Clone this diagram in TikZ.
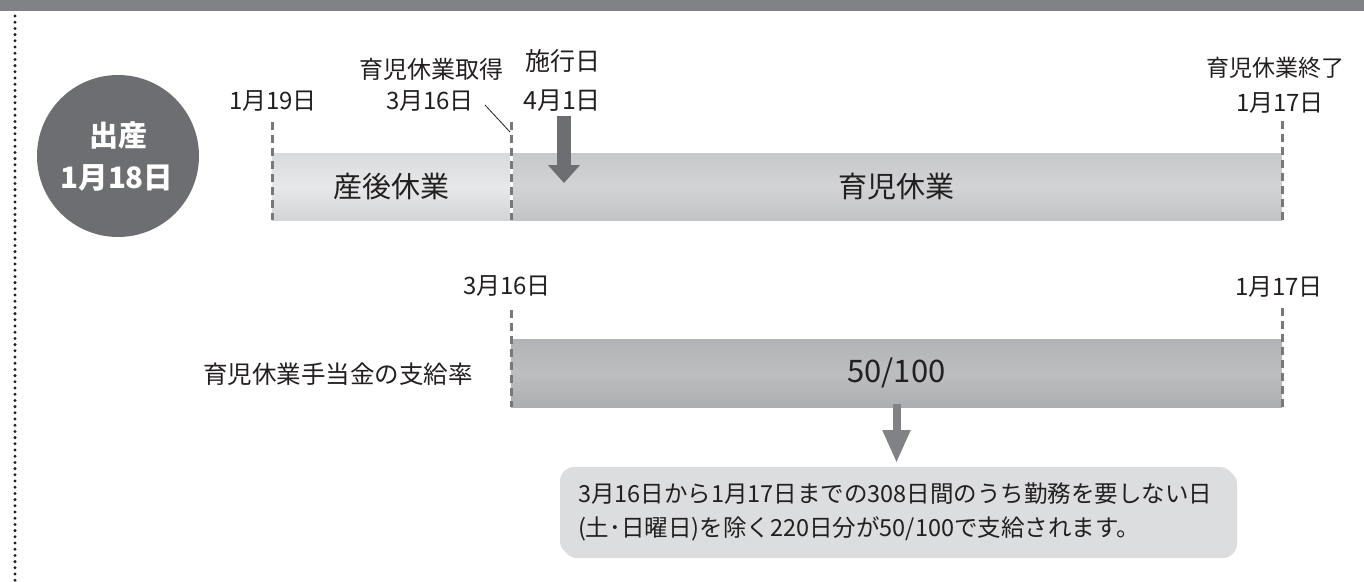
\documentclass[tikz,border=0pt]{standalone}
\usepackage{fontspec}
\setmainfont{Noto Sans CJK JP}
\usetikzlibrary{arrows.meta,shadows}
\definecolor{topbar}{HTML}{808285}
\definecolor{circ}{HTML}{6D6E71}
\definecolor{barAm}{HTML}{E7E8E9}
\definecolor{barAt}{HTML}{D9DADC}
\definecolor{barAb}{HTML}{D3D4D6}
\definecolor{barBm}{HTML}{D1D3D4}
\definecolor{barBt}{HTML}{C7C8CA}
\definecolor{barBb}{HTML}{C2C3C5}
\definecolor{barCm}{HTML}{BCBEC0}
\definecolor{barCt}{HTML}{B2B3B6}
\definecolor{barCb}{HTML}{ADAEB1}
\definecolor{callfill}{HTML}{DCDDDE}
\definecolor{ink}{HTML}{231F20}
\definecolor{guide}{HTML}{77787B}
\definecolor{arrowA}{HTML}{6D6E71}
\definecolor{arrowB}{HTML}{808285}
\newcommand\myfs[2]{\fontsize{#1}{#2}\selectfont}
\begin{document}
\begin{tikzpicture}[x=1pt,y=-1pt,
  every node/.style={inner sep=0pt,outer sep=0pt,text=ink},
  lbl/.style={font=\myfs{24}{28}},
  barbox/.style={minimum height=67pt,draw=none},
  guideline/.style={draw=guide,line width=3pt,dash pattern=on 8pt off 5pt},
]
\useasboundingbox (0,0) rectangle (1364,581);
% top band and dotted rule
\fill[topbar] (0,0) rectangle (1364,11);
\draw[ink,line width=3.3pt,line cap=round,dash pattern=on 0pt off 6.2pt] (15,16) -- (15,581);

% birth circle
\node[circle,fill=circ,minimum size=162pt] (birth) at (118,156) {};
\node[text=white,font=\myfs{29}{30}\bfseries] (birthA) at (118,135) {出産};
\node[text=white,font=\myfs{29.5}{30}\bfseries] (birthB) at (117,178) {1月18日};

% top labels
\node[lbl] (d119) at (273,101) {1月19日};
\node[lbl] (ikstart) at (431,69) {育児休業取得};
\node[lbl] (d316a) at (430,101) {3月16日};
\node[font=\myfs{25}{28}] (shiko) at (563,61) {施行日};
\node[font=\myfs{25}{28}] (d41) at (562,101) {4月1日};
\node[font=\myfs{23}{28}] (ikend) at (1275,68) {育児休業終了};
\node[lbl] (d117a) at (1280,103) {1月17日};

% bars
\node[barbox,minimum width=239pt,top color=barAt,bottom color=barAb,middle color=barAm,font=\myfs{29}{30}] (sango) at (391.5,186.5) {産後休業};
\node[barbox,minimum width=771pt,top color=barBt,bottom color=barBb,middle color=barBm,font=\myfs{29}{30}] (ikuji) at (896.5,186.5) {育児休業};

% guides top
\draw[guideline] (272,122) -- (272,220);
\draw[white,line width=3pt] (511,153) -- (511,220);
\draw[guideline] (511,122) -- (511,220);
\draw[guideline] (1282,121) -- (1282,220);

% leader from 3/16 label
\coordinate (leadA) at (485,105);
\coordinate (leadB) at (510,132);
\draw[ink,line width=0.8pt] (leadA) -- (leadB);

% enforcement arrow
\coordinate (arrAs) at (564,116);
\coordinate (arrAt) at (564,183);
\draw[arrowA,line width=14pt,-{Triangle[width=31pt,length=18pt]}] (arrAs) -- (arrAt);

% second section
\node[lbl] (d316b) at (507,286) {3月16日};
\node[lbl] (d117b) at (1279,287) {1月17日};
\node[font=\myfs{24.5}{28}] (ratelbl) at (338,374) {育児休業手当金の支給率};
\node[minimum width=771pt,minimum height=68pt,top color=barCt,bottom color=barCb,middle color=barCm,font=\myfs{31}{32}] (rate) at (896.5,373) {50/100};
\draw[guideline] (511,310) -- (511,407);
\draw[guideline] (1282,308) -- (1282,407);

% callout
\node[rounded corners=14pt,fill=callfill,minimum width=674pt,minimum height=88pt,
  drop shadow={shadow xshift=3pt,shadow yshift=-3pt,fill=black!30,opacity=0.45}] (note) at (897,511) {};
\node[anchor=west,align=left,font=\myfs{23.5}{34}] (notetext) at (578,512)
  {3月16日から1月17日までの308日間のうち勤務を要しない日\\(土･日曜日)を除く220日分が50/100で支給されます。};

% arrow to callout
\coordinate (tipB) at ([yshift=4pt]note.north);
\draw[arrowB,line width=8pt,-{Triangle[width=26pt,length=33pt]}] ([yshift=3pt]rate.south) -- (rate.south |- tipB);
\end{tikzpicture}
\end{document}
